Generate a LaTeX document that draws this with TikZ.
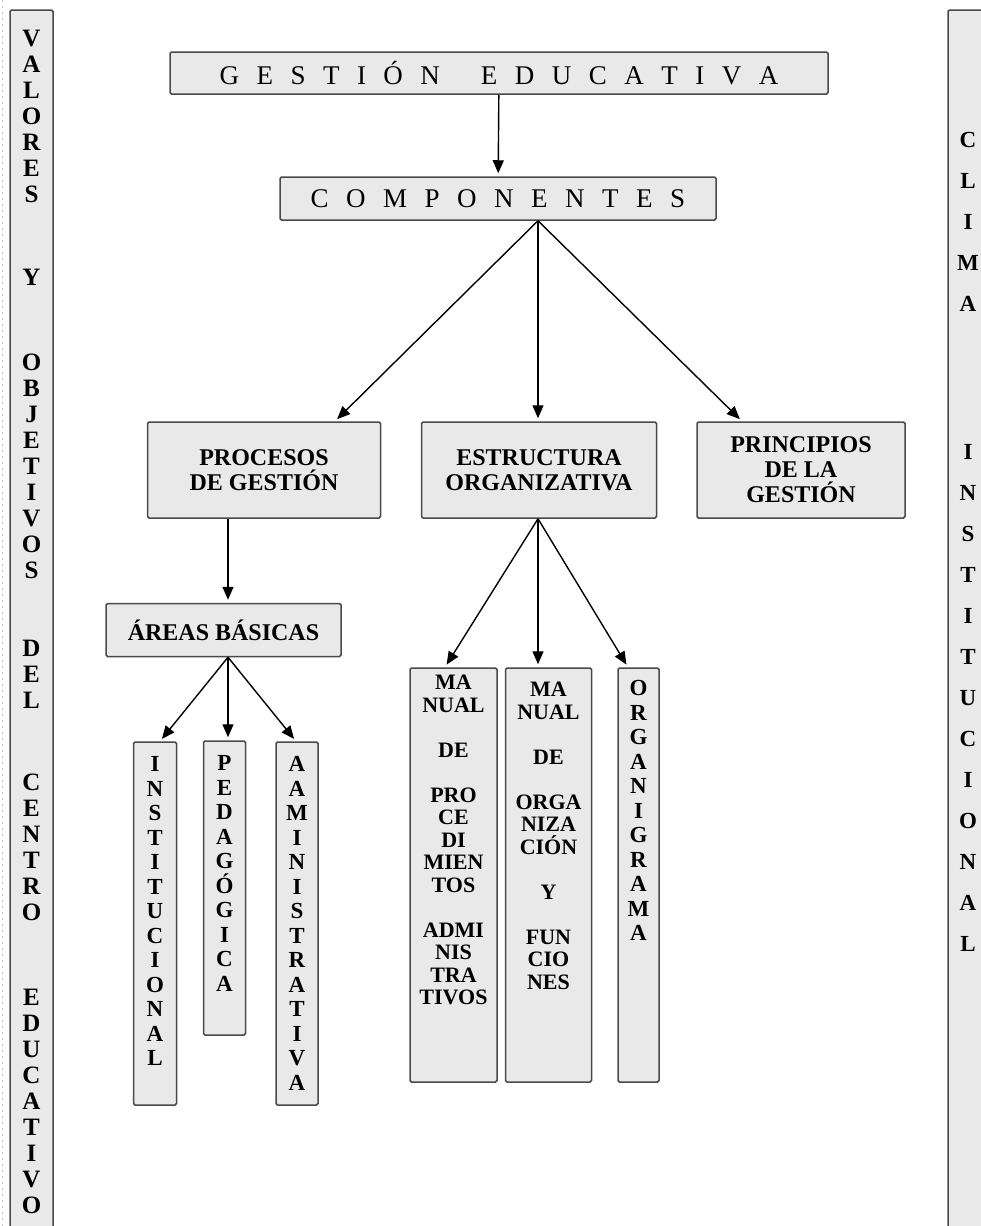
\documentclass[tikz,border=0pt]{standalone}
\usepackage{fontspec}
\setmainfont{Liberation Serif}
\usetikzlibrary{arrows.meta, positioning}
\definecolor{boxgray}{HTML}{E9E9E9}
\definecolor{edgegray}{HTML}{4A4A4A}

\tikzset{
  box/.style={draw=edgegray, fill=boxgray, line width=1.5pt, rounded corners=1.5pt, inner sep=0pt, align=center},
  titlebox/.style={box, font=\fontsize{27}{30}\selectfont},
  labelbox/.style={box, font=\bfseries\fontsize{24}{25}\selectfont},
  sidetext/.style={inner sep=0pt, align=center, anchor=north, font=\bfseries\fontsize{25}{26}\selectfont},
  climatext/.style={inner sep=0pt, align=center, anchor=north, font=\bfseries\fontsize{23}{41}\selectfont},
  lettertext/.style={inner sep=0pt, align=center, font=\bfseries\fontsize{23}{24.5}\selectfont},
  wordtext/.style={inner sep=0pt, align=center, font=\bfseries\fontsize{22}{22.5}\selectfont},
  arr/.style={-{Triangle[length=13pt,width=11pt]}, line width=1.4pt, shorten >=3pt}
}

\begin{document}
\begin{tikzpicture}[x=1pt, y=-1pt]
\useasboundingbox (0,0) rectangle (980,1226);

% side bars
\draw[gray!45, line width=0.8pt, dash pattern=on 2pt off 4pt] (2,0) -- (2,1226);
\node[box, minimum width=43, minimum height=1220] (leftbar) at (31.5,620) {};
\node[box, minimum width=40, minimum height=1220] (rightbar) at (968,620) {};

\node[sidetext] (valores) at (31.5,30) {V\\A\\L\\O\\R\\E\\S};
\node[sidetext] (yy) at (31.5,269) {Y};
\node[sidetext] (objetivos) at (31.5,354) {O\\B\\J\\E\\T\\I\\V\\O\\S};
\node[sidetext] (del) at (31.5,640) {D\\E\\L};
\node[sidetext] (centro) at (31.5,774) {C\\E\\N\\T\\R\\O};
\node[sidetext] (educativo) at (31.5,989) {E\\D\\U\\C\\A\\T\\I\\V\\O};

\node[climatext] (clima) at (968,132) {C\\L\\I\\M\\A};
\node[climatext] (institucional) at (968,444) {I\\N\\S\\T\\I\\T\\U\\C\\I\\O\\N\\A\\L};

% main boxes
\node[titlebox, minimum width=658, minimum height=42] (gestion) at (499,73)
  {\spaceskip=17.5pt G E S T I Ó N\hspace{41pt}E D U C A T I V A};
\node[titlebox, minimum width=436, minimum height=43] (componentes) at (498,198.5)
  {\spaceskip=17.5pt C O M P O N E N T E S};

\node[labelbox, minimum width=233, minimum height=96] (procesos) at (264,470) {PROCESOS\\DE GESTIÓN};
\node[labelbox, minimum width=235, minimum height=96] (estructura) at (539,470) {ESTRUCTURA\\ORGANIZATIVA};
\node[labelbox, minimum width=208, minimum height=96] (principios) at (801,470) {PRINCIPIOS\\DE LA\\GESTIÓN};

\node[labelbox, minimum width=235, minimum height=53] (areas) at (223.5,630) {ÁREAS BÁSICAS};

% tall boxes
\node[box, minimum width=43, minimum height=363] (inst) at (155,923.5) {};
\node[box, minimum width=42, minimum height=294] (peda) at (224.5,888) {};
\node[box, minimum width=42, minimum height=363] (admin) at (297,923.5) {};
\node[box, minimum width=87, minimum height=414] (mproc) at (453.5,875) {};
\node[box, minimum width=86, minimum height=414] (morg) at (548.5,875) {};
\node[box, minimum width=41, minimum height=414] (organi) at (638.5,875) {};

\node[lettertext, below=15pt of inst.north] (insttxt) {I\\N\\S\\T\\I\\T\\U\\C\\I\\O\\N\\A\\L};
\node[lettertext, below=15pt of peda.north] (pedatxt) {P\\E\\D\\A\\G\\Ó\\G\\I\\C\\A};
\node[lettertext, below=15pt of admin.north] (admintxt) {A\\A\\M\\I\\N\\I\\S\\T\\R\\A\\T\\I\\V\\A};
\node[wordtext, below=8pt of mproc.north] (mproctxt)
  {MA\\NUAL\\[22.5pt]DE\\[22.5pt]PRO\\CE\\DI\\MIEN\\TOS\\[22.5pt]ADMI\\NIS\\TRA\\TIVOS};
\node[wordtext, below=15pt of morg.north] (morgtxt)
  {MA\\NUAL\\[22.5pt]DE\\[22.5pt]ORGA\\NIZA\\CIÓN\\[22.5pt]Y\\[22.5pt]FUN\\CIO\\NES};
\node[lettertext, below=13pt of organi.north] (organitxt) {O\\R\\G\\A\\N\\I\\G\\R\\A\\M\\A};

% arrows
\coordinate (cfork) at ([xshift=40]componentes.south);
\coordinate (pfork) at ([xshift=-36]procesos.south);
\coordinate (afork) at ([xshift=4.5]areas.south);
\coordinate (efork) at ([xshift=-1]estructura.south);

\draw[arr] (gestion) -- (componentes);
\draw[arr] (cfork) -- ([xshift=71]procesos.north);
\draw[arr] (cfork) -- (cfork |- estructura.north);
\draw[arr] (cfork) -- ([xshift=-59]principios.north);

\draw[arr] (pfork) -- (pfork |- areas.north);
\draw[arr] (afork) -- ([xshift=5]inst.north);
\draw[arr] (afork) -- (afork |- peda.north);
\draw[arr] (afork) -- ([xshift=-1]admin.north);

\draw[arr] (efork) -- ([xshift=-8.5]mproc.north);
\draw[arr] (efork) -- (efork |- morg.north);
\draw[arr] (efork) -- ([xshift=-10.5]organi.north);

\end{tikzpicture}
\end{document}
